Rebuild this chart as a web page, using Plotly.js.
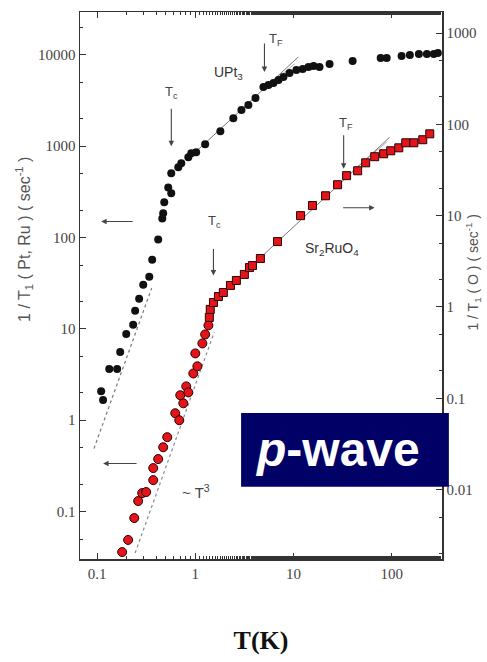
<!DOCTYPE html>
<html>
<head>
<meta charset="utf-8">
<script src="https://cdn.plot.ly/plotly-3.0.1.min.js"></script>
<style>html,body{margin:0;padding:0;background:#fff;}#chart{width:487px;height:662px;}</style>
</head>
<body>
<div id="chart"></div>
<script>
// UPt3 : 1/T1 (Pt) vs T  (left axis)
const upt3T = [0.110,0.115,0.133,0.160,0.172,0.198,0.233,0.244,0.268,0.295,0.340,0.364,0.419,0.461,0.471,0.483,0.569,0.530,0.569,0.671,0.720,0.849,0.910,1.02,1.26,1.80,2.44,2.95,3.47,4.10,4.94,5.56,6.25,7.03,7.90,9.10,10.7,12.4,14.2,16.0,18.4,23.3,40.0,77.2,88.9,126,153,189,228,268,295];
const upt3V = [2.08,1.66,3.63,3.63,5.58,8.8,11.1,15.8,21.4,30.5,37.3,57.3,95,162,184,243,305,354,505,588,650,757,838,859,1052,1462,2031,2489,2825,3367,4446,4677,4920,5308,5728,6339,6840,7015,7380,7570,7380,7960,8590,9270,9270,9750,10000,10250,10250,10250,10500];

// Sr2RuO4 : 1/T1 (Ru) vs T  (right axis)
const sroLowT = [0.180,0.207,0.239,0.262,0.288,0.316,0.373,0.373,0.419,0.471,0.518,0.625,0.687,0.755,0.703,0.809,0.849,0.954,1.05,1.00,1.18,1.26,1.36];
const sroLowV = [0.00207,0.00281,0.00488,0.00749,0.00916,0.0094,0.0127,0.0172,0.0216,0.0291,0.0375,0.0686,0.0575,0.0881,0.108,0.135,0.116,0.187,0.224,0.310,0.399,0.500,0.628];
const sroHighT = [1.39,1.42,1.53,1.72,1.93,2.28,2.62,3.16,3.56,3.82,4.60,6.87,11.8,15.6,21.2,28.1,34.7,45.0,54.3,67.1,82.8,97.7,118,139,168,207,244];
const sroHighV = [0.768,0.94,1.12,1.30,1.44,1.72,1.95,2.27,2.70,2.84,3.39,5.20,10.0,12.9,16.5,21.8,27.4,31.0,37.9,44.2,47.6,51.3,55.3,62.8,62.8,67.8,78.7];

// guide lines
const upt3FitT = [1.0, 11.2];
const upt3FitV = [860, 9500];
const upt3Fit2T = [5.2, 10.3];
const upt3Fit2V = [4350, 8000];
const sroFitT = [2.0, 95];
const sroFitV = [1.5, 72];
const sroFit2T = [40, 89];
const sroFit2V = [31, 64];
const upt3CubeT = [0.093, 0.36];
const upt3CubeV = [0.49, 28];
const sroCubeT = [0.244, 1.56];
const sroCubeV = [0.00202, 0.53];

// axis ticks
const xTicks = [0.1, 1, 10, 100];
const xTickText = ['0.1', '1', '10', '100'];
const yLeftTicks = [0.1, 1, 10, 100, 1000, 10000];
const yLeftText = ['0.1', '1', '10', '100', '1000', '10000'];
const yRightTicks = [0.01, 0.1, 1, 10, 100, 1000];
const yRightText = ['0.01', '0.1', '1', '10', '100', '1000'];

const L = Math.log10;
const lineGrey = '#555';
const traces = [
  {x: upt3CubeT, y: upt3CubeV, mode: 'lines', line: {color: '#777', width: 1.2, dash: 'dot'}, showlegend: false, hoverinfo: 'skip'},
  {x: sroCubeT, y: sroCubeV, yaxis: 'y2', mode: 'lines', line: {color: '#889', width: 1.2, dash: 'dot'}, showlegend: false, hoverinfo: 'skip'},
  {x: upt3FitT, y: upt3FitV, mode: 'lines', line: {color: lineGrey, width: 0.8}, showlegend: false, hoverinfo: 'skip'},
  {x: upt3Fit2T, y: upt3Fit2V, mode: 'lines', line: {color: '#888', width: 0.7}, showlegend: false, hoverinfo: 'skip'},
  {x: sroFitT, y: sroFitV, yaxis: 'y2', mode: 'lines', line: {color: lineGrey, width: 0.8}, showlegend: false, hoverinfo: 'skip'},
  {x: sroFit2T, y: sroFit2V, yaxis: 'y2', mode: 'lines', line: {color: '#888', width: 0.7}, showlegend: false, hoverinfo: 'skip'},
  {x: upt3T, y: upt3V, name: 'UPt3', mode: 'markers', marker: {color: '#111', size: 8, line: {width: 0}}, showlegend: false},
  {x: sroLowT, y: sroLowV, name: 'Sr2RuO4', yaxis: 'y2', mode: 'markers', marker: {color: '#e4141b', size: 9, symbol: 'circle', line: {color: '#2a0000', width: 1}}, showlegend: false},
  {x: sroHighT, y: sroHighV, name: 'Sr2RuO4 ', yaxis: 'y2', mode: 'markers', marker: {color: '#e4141b', size: 8, symbol: 'square', line: {color: '#2a0000', width: 1}}, showlegend: false}
];

const tickFont = {family: 'Liberation Serif, Times New Roman, serif', size: 15, color: '#444'};
const txtFont = {family: 'Liberation Sans, Arial, sans-serif', size: 14, color: '#333'};
const lblFont = {family: 'Liberation Sans, Arial, sans-serif', size: 13, color: '#444'};
const axTitleFont = {family: 'Liberation Sans, Arial, sans-serif', size: 16, color: '#555'};
const axLine = {showline: true, linecolor: '#333', linewidth: 1.5, showgrid: false, zeroline: false, ticks: 'inside', ticklen: 6, tickcolor: '#333', tickfont: tickFont};
const arrowStyle = {showarrow: true, arrowhead: 2, arrowsize: 1, arrowwidth: 1.1, arrowcolor: '#444'};

const layout = {
  width: 487, height: 662,
  margin: {l: 80, r: 45, t: 12, b: 103},
  paper_bgcolor: '#fff', plot_bgcolor: '#fff',
  showlegend: false,
  xaxis: Object.assign({}, axLine, {type: 'log', range: [L(0.067), L(325)], tickvals: xTicks, ticktext: xTickText, mirror: 'ticks',
    minor: {ticks: 'inside', ticklen: 3, tickcolor: '#333', showgrid: false},
    title: {text: 'T(K)', font: {family: 'Liberation Serif, Times New Roman, serif', size: 26, color: '#111', weight: 'bold'}, standoff: 50}}),
  yaxis: Object.assign({}, axLine, {type: 'log', range: [-1.52, 4.47], tickvals: yLeftTicks, ticktext: yLeftText,
    minor: {ticks: 'inside', ticklen: 3, tickcolor: '#333', showgrid: false}}),
  yaxis2: Object.assign({}, axLine, {type: 'log', overlaying: 'y', side: 'right', range: [-2.76, 3.23], tickvals: yRightTicks, ticktext: yRightText,
    minor: {ticks: 'inside', ticklen: 3, tickcolor: '#333', showgrid: false}}),
  shapes: [
    {type: 'rect', xref: 'paper', yref: 'paper', x0: 0.445, x1: 1.019, y0: 0.132, y1: 0.267, fillcolor: '#000066', line: {width: 0}, layer: 'above'}
  ],
  annotations: [
    {xref: 'paper', yref: 'paper', x: -0.155, y: 0.585, xanchor: 'center', yanchor: 'middle', textangle: -90, showarrow: false,
     text: '1 / T<sub>1</sub> ( Pt, Ru ) ( sec<sup>-1</sup> )', font: axTitleFont},
    {xref: 'paper', yref: 'paper', x: 1.085, y: 0.525, xanchor: 'center', yanchor: 'middle', textangle: -90, showarrow: false,
     text: '1 / T<sub>1</sub> ( O ) ( sec<sup>-1</sup> )', font: {family: 'Liberation Sans, Arial, sans-serif', size: 14, color: '#555'}},
    {xref: 'paper', yref: 'paper', x: 0.71, y: 0.2, xanchor: 'center', yanchor: 'middle', text: '<i>p</i>-wave', showarrow: false, font: {family: 'Liberation Sans, Arial, sans-serif', size: 48, color: '#fff', weight: 'bold'}},
    {x: L(2.17), y: L(6340), text: 'UPt<sub>3</sub>', showarrow: false, font: txtFont},
    {x: L(24.4), y: L(4.36), yref: 'y2', text: 'Sr<sub>2</sub>RuO<sub>4</sub>', showarrow: false, font: txtFont},
    {x: L(1.02), y: L(0.166), text: '~ T<sup>3</sup>', showarrow: false, font: {family: 'Liberation Sans, Arial, sans-serif', size: 15, color: '#444'}},
    {x: L(0.57), y: L(3920), text: 'T<sub>c</sub>', showarrow: false, font: lblFont},
    Object.assign({x: L(0.57), y: L(1000), text: '', ax: 0, ay: -39}, arrowStyle),
    {x: L(6.7), y: L(14600), text: 'T<sub>F</sub>', showarrow: false, font: lblFont},
    Object.assign({x: L(5.06), y: L(6500), text: '', ax: 0, ay: -30}, arrowStyle),
    {x: L(1.56), y: L(8.6), yref: 'y2', text: 'T<sub>c</sub>', showarrow: false, font: lblFont},
    Object.assign({x: L(1.53), y: L(2.21), yref: 'y2', text: '', ax: 0, ay: -28}, arrowStyle),
    {x: L(34), y: L(101), yref: 'y2', text: 'T<sub>F</sub>', showarrow: false, font: lblFont},
    Object.assign({x: L(32.4), y: L(32.7), yref: 'y2', text: '', ax: 0, ay: -35}, arrowStyle),
    Object.assign({x: L(0.11), y: L(150), text: '', ax: 33, ay: 0}, arrowStyle),
    Object.assign({x: L(0.115), y: L(0.336), text: '', ax: 35, ay: 0}, arrowStyle),
    Object.assign({x: L(67), y: L(12.2), yref: 'y2', text: '', ax: -33, ay: 0}, arrowStyle)
  ]
};

Plotly.newPlot('chart', traces, layout, {displayModeBar: false, staticPlot: true});
</script>
</body>
</html>
